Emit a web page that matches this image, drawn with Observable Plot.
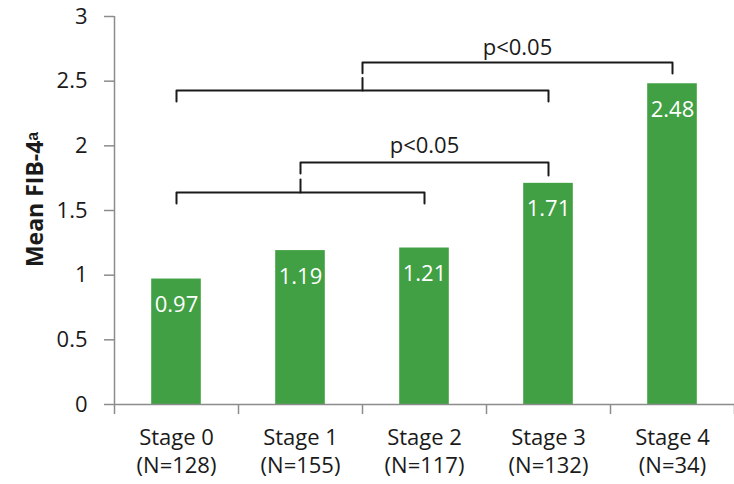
<!DOCTYPE html>
<html><head><meta charset="utf-8">
<script src="https://cdn.jsdelivr.net/npm/d3@7"></script>
<script src="https://cdn.jsdelivr.net/npm/@observablehq/plot@0.6"></script>
<style>body{margin:0;background:#fff}</style>
</head><body><div id="chart"></div>
<script>
// ---- data ----
const stages = ["Stage 0", "Stage 1", "Stage 2", "Stage 3", "Stage 4"];
const counts = ["(N=128)", "(N=155)", "(N=117)", "(N=132)", "(N=34)"];
const means = [0.97, 1.19, 1.21, 1.71, 2.48];
const yTicks = [0, 0.5, 1, 1.5, 2, 2.5, 3];
const yLabel = "Mean FIB-4ᵃ";
// grouped stages (indices) joined by a bracket, heights in FIB-4 units
const groupFrom = [0, 0];
const groupTo = [2, 3];
const groupLevel = [1.64, 2.428];
const groupLegEnd = [1.555, 2.343];
const groupStemTop = [1.74, 2.524];
// comparisons: group vs stage
const compTo = [3, 4];
const compLevel = [1.872, 2.645];
const compLegEnd = [1.771, 2.56];
const compStemEnd = [1.786, 2.562];
const compLabel = ["p<0.05", "p<0.05"];
const compLabelY = [2.0, 2.76];

// ---- derived ----
const center = i => i + 0.5;
const groupMid = g => (center(groupFrom[g]) + center(groupTo[g])) / 2;
const paths = [];
groupFrom.forEach((f, g) => {
  [[center(f), groupLegEnd[g]], [center(f), groupLevel[g]], [center(groupTo[g]), groupLevel[g]], [center(groupTo[g]), groupLegEnd[g]]]
    .forEach(([x, y]) => paths.push({id: "g" + g, x, y}));
  [[groupMid(g), groupLevel[g]], [groupMid(g), groupStemTop[g]]]
    .forEach(([x, y]) => paths.push({id: "s" + g, x, y}));
  [[groupMid(g), compStemEnd[g]], [groupMid(g), compLevel[g]], [center(compTo[g]), compLevel[g]], [center(compTo[g]), compLegEnd[g]]]
    .forEach(([x, y]) => paths.push({id: "c" + g, x, y}));
});
const labels = compLabel.map((t, g) => ({t, x: (groupMid(g) + center(compTo[g])) / 2, y: compLabelY[g]}));

const axisGray = "#8c8c8c";
const ink = "#1a1a1a";

const chart = Plot.plot({
  width: 734, height: 484,
  marginLeft: 114, marginRight: 0, marginTop: 16, marginBottom: 80,
  style: {fontFamily: "'Open Sans', sans-serif", fontSize: "22px", background: "#fff"},
  x: {domain: [0, 5], axis: null},
  y: {domain: [0, 3], axis: null},
  marks: [
    Plot.rect(means, {x1: (d, i) => i + 0.3, x2: (d, i) => i + 0.7, y1: 0, y2: d => d, fill: "#41a043"}),
    Plot.ruleX([0], {y1: 0, y2: 3, stroke: axisGray, strokeWidth: 1.5}),
    Plot.ruleY([0], {stroke: axisGray, strokeWidth: 1.5}),
    Plot.axisY({ticks: yTicks, tickSize: 10, tickPadding: 17, tickFormat: d => String(d), stroke: axisGray, strokeWidth: 1.5, fill: ink, fontSize: 22, label: null}),
    Plot.axisX({ticks: [0, 1, 2, 3, 4, 5], tickSize: 10, tickFormat: () => "", stroke: axisGray, strokeWidth: 1.5, label: null}),
    Plot.axisX({ticks: stages.map((s, i) => center(i)), tickSize: 0, tickPadding: 21, tickFormat: v => stages[Math.floor(v)] + "\n" + counts[Math.floor(v)], fill: ink, fontSize: 22, lineHeight: 1.27, label: null}),
    Plot.text(means, {x: (d, i) => center(i), y: d => d, text: d => d.toFixed(2), dy: 26, fill: "white", fontSize: 22}),
    Plot.line(paths, {x: "x", y: "y", z: "id", stroke: ink, strokeWidth: 2}),
    Plot.text(labels, {x: "x", y: "y", text: "t", fill: ink, fontSize: 22}),
    Plot.text([yLabel], {frameAnchor: "left", rotate: -90, dx: -79, dy: -11, textAnchor: "middle", fontWeight: "bold", fontSize: 23, fill: ink})
  ]
});
document.getElementById("chart").appendChild(chart);
</script>
</body></html>
